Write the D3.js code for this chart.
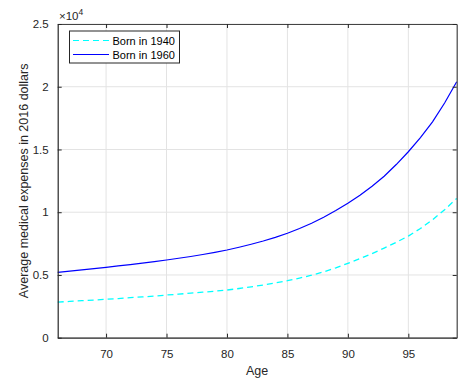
<!DOCTYPE html>
<html><head><meta charset="utf-8">
<script src="https://cdn.jsdelivr.net/npm/d3@7/dist/d3.min.js"></script>
<style>body{margin:0;background:#fff}text{font-family:"Liberation Sans",Arial,sans-serif}</style>
</head><body><svg id="c" width="474" height="385"></svg>
<script>
const ages = d3.range(66, 100);
const born1940 = [2840,2890,2950,3000,3060,3120,3190,3250,3320,3400,3470,3550,3630,3710,3800,3920,4050,4200,4360,4540,4750,4980,5250,5570,5930,6300,6700,7140,7600,8100,8700,9400,10200,11100];
const born1960 = [5210,5300,5400,5500,5610,5720,5830,5940,6060,6190,6330,6470,6630,6800,6990,7210,7450,7710,8000,8320,8700,9120,9600,10130,10710,11350,12070,12870,13800,14820,15950,17200,18700,20400];
const xTicks = [70,75,80,85,90,95];
const yTicks = [0,5000,10000,15000,20000,25000];
const yTickLabels = ["0","0.5","1","1.5","2","2.5"];
const seriesNames = ["Born in 1940","Born in 1960"];

const svg = d3.select("#c");
const L=57.7,R=456.7,T=24,B=337.7;
const x = d3.scaleLinear().domain([66,99]).range([L,R]);
const y = d3.scaleLinear().domain([0,25000]).range([B,T]);
const ink="#262626";

// grid
svg.append("g").selectAll("line").data(xTicks).join("line")
  .attr("x1",d=>x(d)).attr("x2",d=>x(d)).attr("y1",T).attr("y2",B)
  .attr("stroke","#e3e3e3").attr("stroke-width",1);
svg.append("g").selectAll("line").data(yTicks).join("line")
  .attr("x1",L).attr("x2",R).attr("y1",d=>y(d)).attr("y2",d=>y(d))
  .attr("stroke","#e3e3e3").attr("stroke-width",1);

// lines
const line = d3.line().x((d,i)=>x(ages[i])).y(d=>y(d));
svg.append("path").datum(born1940).attr("d",line).attr("fill","none")
  .attr("stroke","#00ffff").attr("stroke-width",1.3).attr("stroke-dasharray","6,4");
svg.append("path").datum(born1960).attr("d",line).attr("fill","none")
  .attr("stroke","#0000ff").attr("stroke-width",1.2);

// axes
const ax = svg.append("g").attr("transform",`translate(0,${B})`)
  .call(d3.axisBottom(x).tickValues(xTicks).tickSizeInner(-4).tickSizeOuter(0).tickPadding(12));
const axT = svg.append("g").attr("transform",`translate(0,${T})`)
  .call(d3.axisTop(x).tickValues(xTicks).tickSizeInner(-4).tickSizeOuter(0).tickFormat(""));
const ay = svg.append("g").attr("transform",`translate(${L},0)`)
  .call(d3.axisLeft(y).tickValues(yTicks).tickSizeInner(-4).tickSizeOuter(0).tickPadding(9).tickFormat((d,i)=>yTickLabels[i]));
const ayR = svg.append("g").attr("transform",`translate(${R},0)`)
  .call(d3.axisRight(y).tickValues(yTicks).tickSizeInner(-4).tickSizeOuter(0).tickFormat(""));
[ax,axT,ay,ayR].forEach(g=>{
  g.select(".domain").attr("stroke",ink).attr("stroke-width",1.2);
  g.selectAll(".tick line").attr("stroke",ink);
  g.selectAll(".tick text").attr("fill",ink).attr("font-size",11.5).attr("font-family","Liberation Sans, Arial, sans-serif");
});
axT.select(".domain").attr("stroke","#444");
ayR.select(".domain").attr("stroke","#444");

// exponent
const ex = svg.append("text").attr("x",59).attr("y",20).attr("fill",ink).attr("font-size",11.5);
ex.append("tspan").text("×10");
ex.append("tspan").attr("font-size",8.5).attr("dy",-5).text("4");

// axis labels
svg.append("text").attr("x",257).attr("y",375).attr("text-anchor","middle").attr("fill",ink).attr("font-size",12.5).text("Age");
svg.append("text").attr("transform",`translate(28,${(T+B)/2}) rotate(-90)`).attr("text-anchor","middle")
  .attr("fill",ink).attr("font-size",12.5).text("Average medical expenses in 2016 dollars");

// legend
const lg = svg.append("g");
lg.append("rect").attr("x",69.5).attr("y",31).attr("width",110).attr("height",32)
  .attr("fill","#fff").attr("stroke",ink).attr("stroke-width",1);
const cols=["#00ffff","#0000ff"], dashes=["6,4",null];
seriesNames.forEach((n,i)=>{
  const yy=40.5+i*14;
  lg.append("line").attr("x1",73).attr("x2",109).attr("y1",yy).attr("y2",yy)
    .attr("stroke",cols[i]).attr("stroke-width",1.2).attr("stroke-dasharray",dashes[i]);
  lg.append("text").attr("x",112.5).attr("y",yy+4).attr("font-size",11).attr("fill","#000").text(n);
});
</script></body></html>
